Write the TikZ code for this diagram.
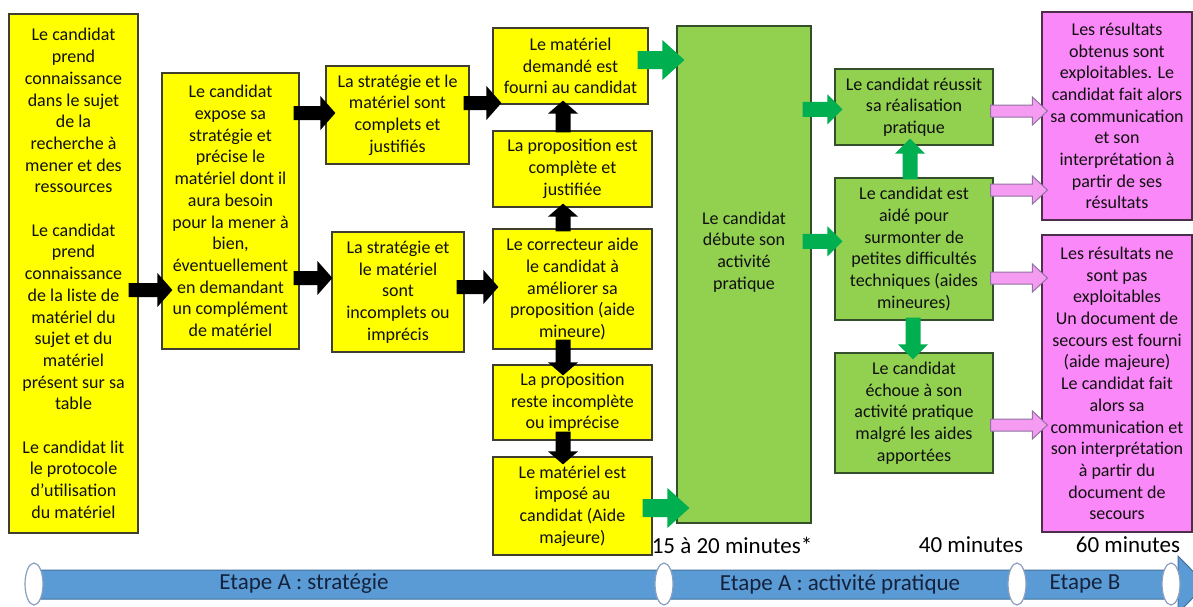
\documentclass[tikz,border=0pt]{standalone}
\usepackage{fontspec}
\setmainfont{Carlito}
\usetikzlibrary{calc}
\definecolor{yfill}{HTML}{FFFF00}
\definecolor{yline}{HTML}{3F3F30}
\definecolor{gfill}{HTML}{92D050}
\definecolor{gline}{HTML}{34502A}
\definecolor{garrow}{HTML}{00B050}
\definecolor{pfill}{HTML}{FA88F8}
\definecolor{pline}{HTML}{4A2E4A}
\definecolor{parrow}{HTML}{F59CF2}
\definecolor{parrowline}{HTML}{8E74A0}
\definecolor{boxtext}{HTML}{101010}
\definecolor{barfill}{HTML}{5B9BD5}
\definecolor{barline}{HTML}{41719C}
\definecolor{ringline}{HTML}{8A9FBF}
\definecolor{steptext}{HTML}{15223C}
\tikzset{
	txtbox/.style = {
		align=center,
		inner sep=0pt,
		font=\fontsize{18}{21.7}\selectfont,
		text=boxtext,
		line width=1.2pt
	},
	node_y/.style = {
		txtbox,
		draw=yline,
		fill=yfill
	},
	node_g/.style = {
		txtbox,
		draw=gline,
		fill=gfill
	},
	node_p/.style = {
		txtbox,
		draw=pline,
		fill=pfill
	},
	timelabel/.style = {
		inner sep=0pt,
		font=\fontsize{23}{27}\selectfont
	},
	steplabel/.style = {
		timelabel,
		text=steptext
	},
	% block arrows, horizontal (to the right) and vertical
	harrow/.style n args = {3}{
		to path={
			let \p1=(\tikztostart), \p2=(\tikztotarget) in
			(\x1,{\y1+#1}) -- ({\x2-#3},{\y1+#1}) -- ({\x2-#3},{\y1+#2}) -- (\x2,\y1)
			-- ({\x2-#3},{\y1-#2}) -- ({\x2-#3},{\y1-#1}) -- (\x1,{\y1-#1}) -- cycle
		}
	},
	varrow/.style n args = {3}{
		to path={
			let \p1=(\tikztostart), \p2=(\tikztotarget), \n1={sign(\y2-(\y1))} in
			({\x1+#1},\y1) -- ({\x1+#1},{\y2-(\n1)*#3}) -- ({\x1+#2},{\y2-(\n1)*#3}) -- (\x1,\y2)
			-- ({\x1-#2},{\y2-(\n1)*#3}) -- ({\x1-#1},{\y2-(\n1)*#3}) -- ({\x1-#1},\y1) -- cycle
		}
	},
	arr_k/.style = {
		fill=black,
		harrow={7pt}{17pt}{15pt}
	},
	arr_kv/.style = {
		fill=black,
		varrow={7.5pt}{15pt}{13pt}
	},
	arr_gbig/.style = {
		fill=garrow,
		harrow={9pt}{20pt}{22pt}
	},
	arr_g/.style = {
		fill=garrow,
		harrow={7.5pt}{15pt}{15pt}
	},
	arr_gv/.style = {
		fill=garrow,
		varrow={7.5pt}{15pt}{15pt}
	},
	arr_p/.style = {
		fill=parrow,
		draw=parrowline,
		line width=1pt,
		harrow={6pt}{14pt}{15pt}
	}
}
\begin{document}
\begin{tikzpicture}[x=1pt, y=-1pt]
\useasboundingbox (0,0) rectangle (1193,606);
\clip (0,0) rectangle (1193,606);
\fill[white] (0,0) rectangle (1193,606);

% Etape A : strategie
\node [node_y, minimum width=129pt, minimum height=519pt] (b1) at (73.5,273.5)
	{Le candidat\\prend\\connaissance\\dans le sujet\\de la\\recherche à\\mener et des\\ressources\\[21.7pt]
	Le candidat\\prend\\connaissance\\de la liste de\\matériel du\\sujet et du\\matériel\\présent sur sa\\table\\[21.7pt]
	Le candidat lit\\le protocole\\d’utilisation\\du matériel};
\node [node_y, minimum width=137pt, minimum height=276pt] (b2) at (230.5,211)
	{Le candidat\\expose sa\\stratégie et\\précise le\\matériel dont il\\aura besoin\\pour la mener à\\bien,\\éventuellement\\en demandant\\un complément\\de matériel};
\node [node_y, minimum width=143pt, minimum height=98pt] (b3) at (397.5,115)
	{La stratégie et le\\matériel sont\\complets et\\justifiés};
\node [node_y, minimum width=132pt, minimum height=120pt] (b4) at (398,292)
	{La stratégie et\\le matériel\\sont\\incomplets ou\\imprécis};
\node [node_y, minimum width=155pt, minimum height=76pt] (b5) at (570.5,66)
	{Le matériel\\demandé est\\fourni au candidat};
\node [node_y, minimum width=159pt, minimum height=76pt] (b6) at (572.5,169)
	{La proposition est\\complète et\\justifiée};
\node [node_y, minimum width=159pt, minimum height=120pt] (b7) at (572.5,289)
	{Le correcteur aide\\le candidat à\\améliorer sa\\proposition (aide\\mineure)};
\node [node_y, minimum width=159pt, minimum height=75pt] (b8) at (572.5,402.5)
	{La proposition\\reste incomplète\\ou imprécise};
\node [node_y, minimum width=159pt, minimum height=98pt] (b9) at (572.5,506)
	{Le matériel est\\imposé au\\candidat (Aide\\majeure)};

% Etape A : activite pratique
\node [node_g, minimum width=134pt, minimum height=497pt,
	label={[txtbox, yshift=22.5pt]center:Le candidat\\débute son\\activité\\pratique}] (g1) at (744,274.5) {};
\node [node_g, minimum width=158pt, minimum height=76pt] (g2) at (914,107)
	{Le candidat réussit\\sa réalisation\\pratique};
\node [node_g, minimum width=158pt, minimum height=142pt] (g3) at (914,249)
	{Le candidat est\\aidé pour\\surmonter de\\petites difficultés\\techniques (aides\\mineures)};
\node [node_g, minimum width=158pt, minimum height=120pt] (g4) at (914,413)
	{Le candidat\\échoue à son\\activité pratique\\malgré les aides\\apportées};

% Etape B
\node [node_p, minimum width=150pt, minimum height=208pt] (p1) at (1117,116)
	{Les résultats\\obtenus sont\\exploitables. Le\\candidat fait alors\\sa communication\\et son\\interprétation à\\partir de ses\\résultats};
\node [node_p, minimum width=150pt, minimum height=297pt] (p2) at (1117,383.5)
	{Les résultats ne\\sont pas\\exploitables\\Un document de\\secours est fourni\\(aide majeure)\\Le candidat fait\\alors sa\\communication et\\son interprétation\\à partir du\\document de\\secours};

% black arrows
\path [arr_k] ($(b1.east)+(-10,16.5)$) to ($(b2.west)+(11,79)$);
\path [arr_k] ($(b2.east)+(-6,-98)$) to ($(b3.west)+(10,-2)$);
\path [arr_k] ($(b2.east)+(-6,67)$) to ($(b4.west)+(1,-14)$);
\path [arr_k] ($(b3.east)+(-6,-12)$) to ($(b5.west)+(9,37)$);
\path [arr_k] ($(b4.east)+(-8,-5)$) to ($(b7.west)+(6,-2)$);
\path [arr_kv] ($(b7.north)+(-9.5,3)$) to ($(b6.south)+(-9.5,-4)$);
\path [arr_kv] ($(b6.north)+(-9.5,2)$) to ($(b5.south)+(-7.5,-4)$);
\path [arr_kv] ($(b7.south)+(-9.5,-10)$) to ($(b8.north)+(-9.5,11)$);
\path [arr_kv] ($(b8.south)+(-9.5,-9)$) to ($(b9.north)+(-9.5,8)$);

% green arrows
\path [arr_gbig] ($(b5.east)+(-11,-6)$) to ($(g1.north west)+(8,34)$);
\path [arr_gbig] ($(b9.east)+(-10,2)$) to ($(g1.south west)+(13,-15)$);
\path [arr_g] ($(g1.north east)+(-9,84)$) to ($(g2.west)+(8,3)$);
\path [arr_g] ($(g1.north east)+(-9,216)$) to ($(g3.west)+(8,-7)$);
\path [arr_gv] ($(g3.north)+(-4,2)$) to ($(g2.south)+(-4,-7)$);
\path [arr_gv] ($(g3.south)+(-1,-3)$) to ($(g4.north)+(-1,7)$);

% pink arrows
\path [arr_p] ($(g2.east)+(-3,4)$) to ($(p1.west)+(6,-5)$);
\path [arr_p] ($(g3.east)+(-3,-59)$) to ($(p1.west)+(6,74)$);
\path [arr_p] ($(g3.east)+(-3,29)$) to ($(p2.west)+(6,-105.5)$);
\path [arr_p] ($(g4.east)+(-3,12)$) to ($(p2.west)+(6,41.5)$);

% time line
\draw [fill=barfill, draw=barline, line width=1pt]
	(34,570) -- (1178,570) -- (1178,556) -- (1206,584.5) -- (1178,613) -- (1178,599) -- (34,599) -- cycle;
\foreach \xr in {34,664,1017,1171} {
	\draw [fill=white, draw=ringline, line width=1.2pt] (\xr,584) ellipse [x radius=9, y radius=21];
}

\node [timelabel] (t1) at (732,545) {15 à 20 minutes*};
\node [timelabel] (t2) at (971,545) {40 minutes};
\node [timelabel] (t3) at (1128,545) {60 minutes};
\node [steplabel] (e1) at (304,584) {Etape A : stratégie};
\node [steplabel] (e2) at (840,584) {Etape A : activité pratique};
\node [steplabel] (e3) at (1085,584) {Etape B};
\end{tikzpicture}
\end{document}
